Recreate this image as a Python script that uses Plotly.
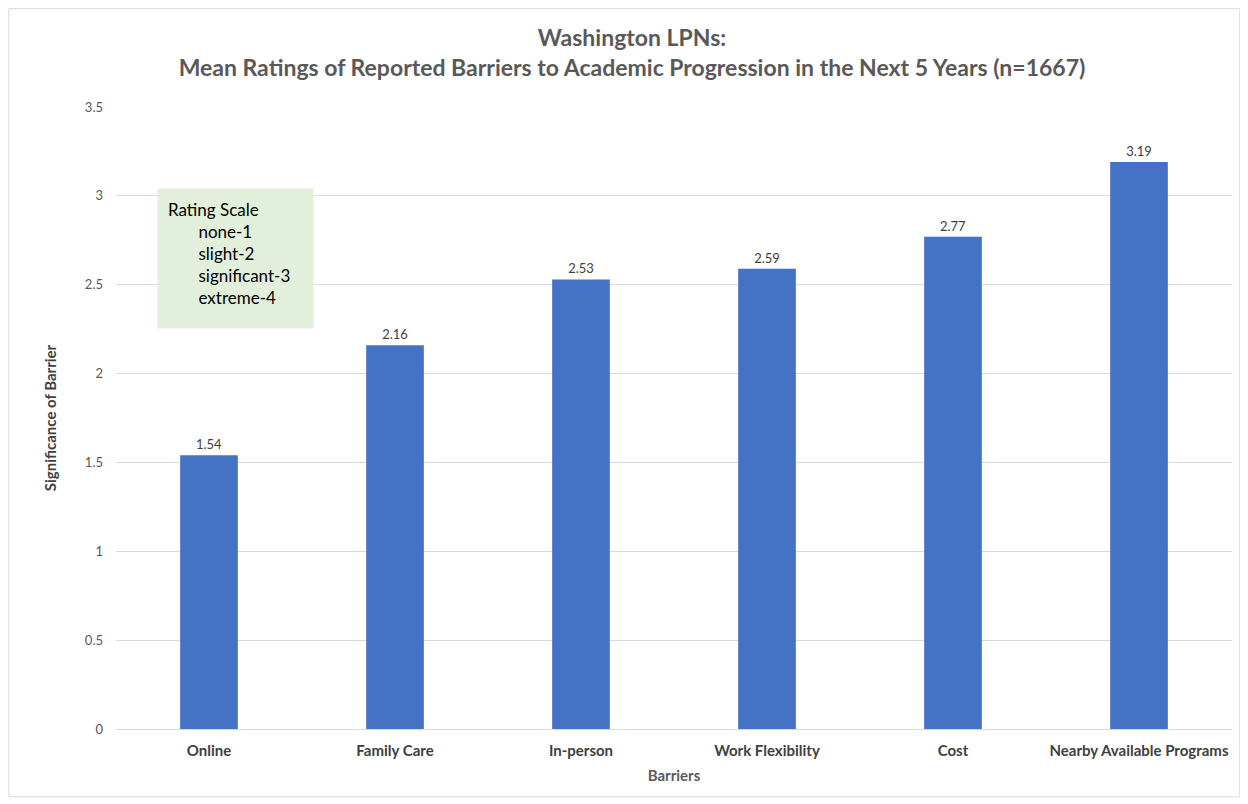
import plotly.graph_objects as go

barriers = ["Online", "Family Care", "In-person", "Work Flexibility", "Cost", "Nearby Available Programs"]
mean_ratings = [1.54, 2.16, 2.53, 2.59, 2.77, 3.19]
y_ticks = [0, 0.5, 1, 1.5, 2, 2.5, 3, 3.5]
y_tick_labels = ["0", "0.5", "1", "1.5", "2", "2.5", "3", "3.5"]

FONT = "Lato"
BAR_COLOR = "#4472C4"

fig = go.Figure()

fig.add_trace(go.Bar(
    x=barriers,
    y=mean_ratings,
    marker=dict(color=BAR_COLOR, line=dict(width=0)),
    text=[f"{v:.2f}" for v in mean_ratings],
    textposition="outside",
    textfont=dict(size=13, color="#404040", family=FONT),
    cliponaxis=False,
))

# rating scale box (top-left inside plot)
nbsp = "\u00a0" * 7
legend_text = (
    "Rating Scale<br>"
    f"{nbsp}none-1<br>"
    f"{nbsp}slight-2<br>"
    f"{nbsp}significant-3<br>"
    f"{nbsp}extreme-4"
)

fig.add_annotation(
    x=0.0367, y=0.87, xref="paper", yref="paper",
    text=legend_text, showarrow=False, align="left", valign="top",
    xanchor="left", yanchor="top",
    font=dict(size=17, color="#000000", family=FONT),
    bgcolor="#E2EFDA", borderpad=10, width=135, height=119,
)

fig.update_layout(
    width=1248,
    height=804,
    title=dict(
        text="<b>Washington LPNs:<br>Mean Ratings of Reported Barriers to Academic Progression in the Next 5 Years (n=1667)</b>",
        x=0.5, xanchor="center", y=0.953, yanchor="top",
        font=dict(size=23, color="#595959", family=FONT),
    ),
    plot_bgcolor="white",
    paper_bgcolor="white",
    font=dict(family=FONT, size=12, color="#595959"),
    margin=dict(l=108, r=24, t=99, b=83),
    bargap=0.69,
    showlegend=False,
    xaxis=dict(
        title=dict(text="<b>Barriers</b>", font=dict(size=15, color="#595959"), standoff=12),
        tickfont=dict(size=15, color="#404040"),
        tickprefix="<b>", ticksuffix="</b>",
        ticklabelstandoff=8,
        showgrid=False, showline=True, linecolor="#d9d9d9", ticks="",
    ),
    yaxis=dict(
        title=dict(text="<b>Significance of Barrier</b>", font=dict(size=15, color="#404040"), standoff=24),
        range=[0, 3.5],
        tickvals=y_ticks, ticktext=y_tick_labels,
        tickfont=dict(size=13, color="#595959"),
        ticklabelstandoff=12,
        showgrid=True, gridcolor="#d9d9d9", gridwidth=1,
        zeroline=False, showline=False, ticks="",
    ),
    shapes=[dict(
        type="rect", xref="paper", yref="paper",
        x0=-0.096, x1=1.007, y0=-0.109, y1=1.158,
        line=dict(color="#d9d9d9", width=1), fillcolor="rgba(0,0,0,0)",
    )],
)

fig.write_html("out.html")
